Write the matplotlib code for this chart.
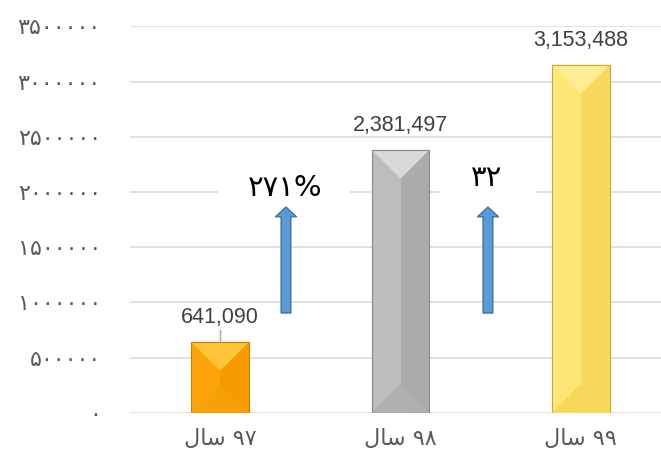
import matplotlib
matplotlib.use("Agg")
import matplotlib.pyplot as plt
from matplotlib.patches import Polygon, Rectangle

# data
years = ["97", "98", "99"]
values = [641090, 2381497, 3153488]
growth_labels = ["271%", "32"]
yticks = [0, 500000, 1000000, 1500000, 2000000, 2500000, 3000000, 3500000]

# bevel colours: (left, right, top, bottom, edge)
bar_styles = [
    ("#FDA40C", "#F59A00", "#FFC43A", "#F7A106", "#C98000"),
    ("#BFBCBC", "#ADAAAA", "#DAD8D8", "#B2AFAF", "#8A8888"),
    ("#FFE676", "#F9D85E", "#FFEF92", "#F6D75C", "#C8A83E"),
]

FA_DIGITS = str.maketrans("0123456789", "۰۱۲۳۴۵۶۷۸۹")
SAL = "\uFEDD\uFE8E\uFEB3"  # "سال" in visual order, presentation forms


def fa(s):
    return str(s).translate(FA_DIGITS)


W, H = 661, 463
fig = plt.figure(figsize=(W / 100, H / 100), dpi=100)
ax_l, ax_r, ax_b, ax_t = 130, 671, 412.7, 26.3
ax = fig.add_axes([ax_l / W, (H - ax_b) / H, (ax_r - ax_l) / W, (ax_b - ax_t) / H])
ax.set_xlim(-0.5, 2.5)
ax.set_ylim(0, 3500000)

px_x = (ax_r - ax_l) / 3.0           # px per x unit
px_y = (ax_b - ax_t) / 3500000.0     # px per y unit

ax.set_axisbelow(True)
ax.grid(axis="y", color="#D9D9D9", linewidth=1.1)
for s in ax.spines.values():
    s.set_visible(False)

bars = ax.bar(range(3), values, width=0.32, color=[st[0] for st in bar_styles], zorder=2)

for b, st in zip(bars, bar_styles):
    left, right_c, top_c, bot_c, edge = st
    x0, w, h = b.get_x(), b.get_width(), b.get_height()
    xc = x0 + w / 2
    ax.add_patch(Rectangle((xc, 0), w / 2, h, color=right_c, zorder=2.1, lw=0))
    d_px = min(w / 2 * px_x, h * px_y / 2)
    d = d_px / px_y
    ax.add_patch(Polygon([(x0, h), (x0 + w, h), (xc, h - d)], closed=True,
                         color=top_c, lw=0, zorder=2.2))
    ax.add_patch(Polygon([(x0, 0), (x0 + w, 0), (xc, d)], closed=True,
                         color=bot_c, lw=0, zorder=2.2))
    ax.add_patch(Rectangle((x0, 0), w, h, fill=False, edgecolor=edge, lw=0.8, zorder=2.3))

    # data label
    ax.text(xc, h + 19 / px_y, f"{h:,.0f}", ha="center", va="baseline",
            fontsize=15.5, color="#404040", family=["Liberation Sans", "DejaVu Sans"], zorder=4)

# leader line of the first label
ax.plot([0, 0], [values[0], values[0] + 12 / px_y], color="#A6A6A6", lw=1, zorder=3)

ax.set_yticks(yticks)
ax.set_yticklabels([fa(v) for v in yticks], family=["DejaVu Sans"], fontsize=16, color="#595959")
ax.set_xticks(range(3))
ax.set_xticklabels([SAL + " " + fa(y) for y in years], family=["DejaVu Sans"],
                   fontsize=16, color="#595959")
ax.tick_params(axis="y", length=0, pad=21)
ax.tick_params(axis="x", length=0, pad=12)

# growth annotations
growth_x = [0.36, 1.48]
growth_y = [2035000, 2126000]
cover = [(-0.012, 0.72), (1.225, 1.746)]
for gx, gy, lab, (c0, c1) in zip(growth_x, growth_y, growth_labels, cover):
    ax.add_patch(Rectangle((c0, 1950000), c1 - c0, 170000, color="white", lw=0, zorder=1))
    ax.text(gx, gy, fa(lab), ha="center", va="center", fontsize=21, color="black",
            family=["DejaVu Sans"], zorder=4)
    ax.annotate("", xy=(gx + 0.005, 1863000), xytext=(gx + 0.005, 903000),
                arrowprops=dict(arrowstyle="simple,tail_width=7,head_width=15,head_length=7",
                                mutation_scale=1, fc="#5B9BD5", ec="#41719C", lw=1,
                                shrinkA=0, shrinkB=0), zorder=3)

fig.savefig("out.png", dpi=100)
